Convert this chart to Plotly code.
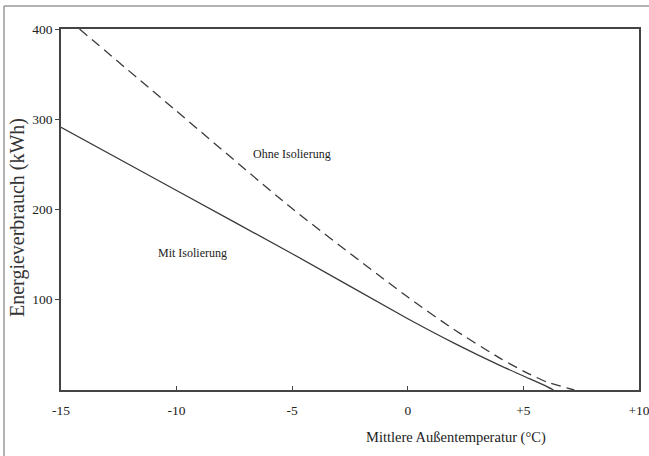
import plotly.graph_objects as go

# Data
temp_mit = [-15, -10, -5, 0, 2, 4, 5, 6, 6.3]
kwh_mit = [291, 221, 151, 79, 52, 27, 15.5, 4, 0]

temp_ohne = [-14.2, -10, -5, 0, 2, 4, 5, 6, 7.2]
kwh_ohne = [400, 309, 201, 103, 67, 35, 21, 9, 0]

x_tickvals = [-15, -10, -5, 0, 5, 10]
x_ticktext = ["-15", "-10", "-5", "0", "+5", "+10"]
y_tickvals = [100, 200, 300, 400]

FONT = "Liberation Serif"
LINE = "#3a3a3a"

fig = go.Figure()
fig.add_trace(go.Scatter(x=temp_mit, y=kwh_mit, mode="lines",
                         line=dict(color=LINE, width=1.3, shape="spline", smoothing=0.6),
                         showlegend=False, hoverinfo="skip"))
fig.add_trace(go.Scatter(x=temp_ohne, y=kwh_ohne, mode="lines",
                         line=dict(color=LINE, width=1.3, dash="10px,6px", shape="spline", smoothing=0.6),
                         showlegend=False, hoverinfo="skip"))

fig.add_annotation(x=-5.0, y=261, text="Ohne Isolierung", showarrow=False,
                   font=dict(family=FONT, size=12, color="#222"))
fig.add_annotation(x=-9.3, y=152, text="Mit Isolierung", showarrow=False,
                   font=dict(family=FONT, size=12, color="#222"))

fig.add_annotation(xref="paper", yref="paper", x=(456-61)/578, y=(390-437)/361,
                   xanchor="center", yanchor="middle",
                   text="Mittlere Außentemperatur (°C)", showarrow=False,
                   font=dict(family=FONT, size=14.5, color="#222"))
fig.add_annotation(xref="paper", yref="paper", x=(17-61)/578, y=(390-218)/361,
                   xanchor="center", yanchor="middle",
                   text="Energieverbrauch (kWh)", showarrow=False, textangle=-90,
                   font=dict(family=FONT, size=20, color="#333"))

# outer frame lines (top and left)
fig.add_shape(type="line", xref="paper", yref="paper",
              x0=(4-61)/578, x1=(649-61)/578, y0=(390-6)/361, y1=(390-6)/361,
              line=dict(color="#999", width=1.5))
fig.add_shape(type="line", xref="paper", yref="paper",
              x0=(4-61)/578, x1=(4-61)/578, y0=(390-6)/361, y1=(390-456)/361,
              line=dict(color="#999", width=1.5))

fig.update_xaxes(range=[-15, 10], tickvals=x_tickvals, ticktext=x_ticktext,
                 ticks="inside", ticklen=4, tickcolor="#444", tickwidth=1.2,
                 showline=True, linecolor="#444", linewidth=1.5, mirror=True,
                 showgrid=False, zeroline=False, automargin=False,
                 ticklabeloverflow="allow", ticklabelstandoff=7,
                 tickfont=dict(family=FONT, size=13.5, color="#222"))
fig.update_yaxes(range=[0, 400], tickvals=y_tickvals,
                 ticks="outside", ticklen=4, tickcolor="#444", tickwidth=1.2,
                 showline=True, linecolor="#444", linewidth=1.5, mirror=True,
                 showgrid=False, zeroline=False, automargin=False,
                 ticklabeloverflow="allow",
                 tickfont=dict(family=FONT, size=13.5, color="#222"))

fig.update_layout(width=649, height=456, margin=dict(l=61, r=10, t=29, b=66),
                  paper_bgcolor="white", plot_bgcolor="white")

fig.write_html("out.html", config={"displayModeBar": False},
               post_script="document.body.style.margin='0';")
